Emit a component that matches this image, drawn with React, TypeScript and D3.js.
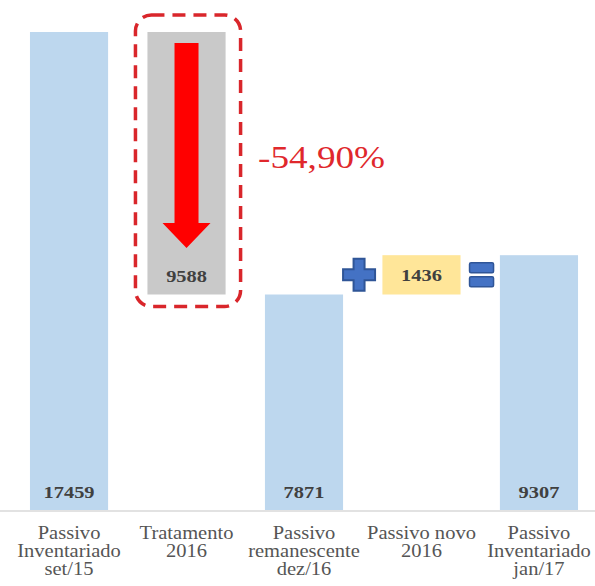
import React, { useEffect } from "react";
import * as d3 from "d3";

const categories: string[][] = [
  ["Passivo", "Inventariado", "set/15"],
  ["Tratamento", "2016"],
  ["Passivo", "remanescente", "dez/16"],
  ["Passivo novo", "2016"],
  ["Passivo", "Inventariado", "jan/17"],
];
const starts = [0, 7871, 0, 7871, 0];
const ends = [17459, 17459, 7871, 9307, 9307];
const labels = ["17459", "9588", "7871", "1436", "9307"];
const kinds = ["total", "down", "total", "up", "total"];
const pctLabel = "-54,90%";

const W = 595;
const H = 586;
const SERIF = "Liberation Serif, DejaVu Serif, serif";
const SX = 1.2;
const SXC = 1.14;

export default function App() {
  useEffect(() => {
    document.body.style.margin = "0";
  }, []);
  const x = d3.scaleBand<number>().domain(d3.range(5)).range([10, 598]).paddingInner(0.335).paddingOuter(0.17);
  const y = d3.scaleLinear().domain([0, 17459]).range([510, 32]);
  const bw = x.bandwidth();

  const fillFor = (k: string) => (k === "total" ? "#BDD7EE" : k === "down" ? "#C9C9C9" : "#FFE699");

  const b1x = x(1)!;
  const b3x = x(3)!;
  const gTop = y(ends[1]);
  const gBot = y(starts[1]);
  const cx1 = b1x + bw / 2;
  const ts = { fontFamily: SERIF };

  return (
    <svg width={W} height={H} style={{ display: "block", position: "absolute", left: 0, top: 0 }}>
      <rect width={W} height={H} fill="#fff" />
      {starts.map((s, i) => (
        <rect key={i} x={x(i)!} y={y(ends[i])} width={bw} height={y(s) - y(ends[i])} fill={fillFor(kinds[i])} />
      ))}
      <line x1={0} x2={W} y1={y(0) + 1} y2={y(0) + 1} stroke="#D9D9D9" strokeWidth={1.5} />
      {labels.map((l, i) => {
        const k = kinds[i];
        let ly = y(0) - 12;
        if (k === "down") ly = gBot - 13;
        if (k === "up") ly = (y(starts[i]) + y(ends[i])) / 2 + 6;
        return (
          <text
            key={i}
            style={ts}
            transform={`translate(${x(i)! + bw / 2},${ly}) scale(${SX},1)`}
            textAnchor="middle"
            fontWeight="bold"
            fontSize={17}
            fill="#404040"
          >
            {l}
          </text>
        );
      })}
      {categories.map((lines, i) => (
        <g key={i} transform={`translate(${x(i)! + bw / 2},0) scale(${SXC},1)`}>
          {lines.map((ln, j) => (
            <text key={j} style={ts} x={0} y={539 + j * 18} textAnchor="middle" fontSize={18} fill="#555555">
              {ln}
            </text>
          ))}
        </g>
      ))}
      <path
        d={`M${cx1 - 12},${gTop + 11} L${cx1 + 12},${gTop + 11} L${cx1 + 12},${gTop + 191} L${cx1 + 24},${gTop + 191} L${cx1},${gTop + 216} L${cx1 - 24},${gTop + 191} L${cx1 - 12},${gTop + 191} Z`}
        fill="#FF0000"
      />
      <rect
        x={b1x - 12}
        y={gTop - 17}
        width={bw + 27}
        height={gBot - gTop + 29}
        rx={16}
        fill="none"
        stroke="#D9262B"
        strokeWidth={3.5}
        strokeDasharray="13 8"
      />
      <text style={ts} transform={`translate(258,168) scale(${SX},1)`} fontSize={31} fill="#E0282C">
        {pctLabel}
      </text>
      {(() => {
        const cx = x(2)! + bw + 16;
        const cy = (y(starts[3]) + y(ends[3])) / 2;
        const a = 5.5;
        const b = 16;
        const d = `M${cx - a},${cy - b} L${cx + a},${cy - b} L${cx + a},${cy - a} L${cx + b},${cy - a} L${cx + b},${cy + a} L${cx + a},${cy + a} L${cx + a},${cy + b} L${cx - a},${cy + b} L${cx - a},${cy + a} L${cx - b},${cy + a} L${cx - b},${cy - a} L${cx - a},${cy - a} Z`;
        return <path d={d} fill="#4472C4" stroke="#2F5597" strokeWidth={2} />;
      })()}
      {(() => {
        const ex = b3x + bw + 9;
        const cy = (y(starts[3]) + y(ends[3])) / 2;
        return (
          <g fill="#4472C4" stroke="#2F5597" strokeWidth={1.5}>
            <rect x={ex} y={cy - 12} width={24} height={10} rx={1.5} />
            <rect x={ex} y={cy + 2} width={24} height={10} rx={1.5} />
          </g>
        );
      })()}
    </svg>
  );
}
